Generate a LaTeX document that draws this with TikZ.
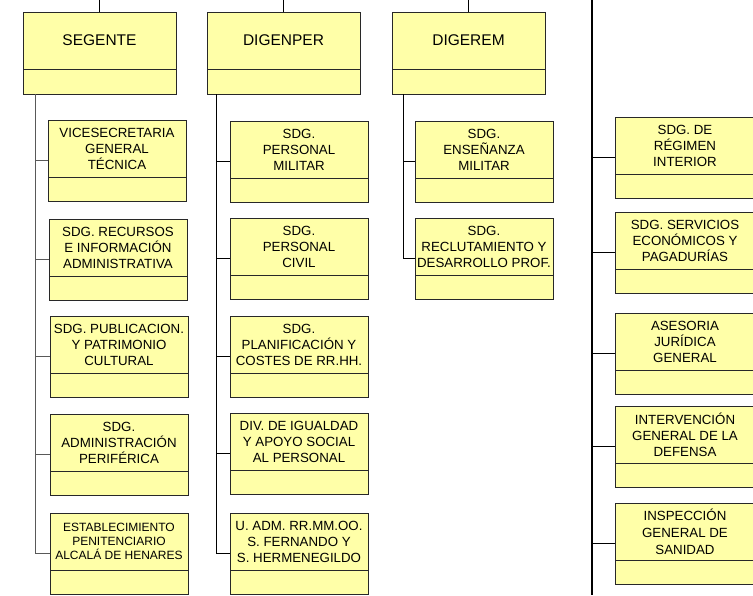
\documentclass[tikz,border=0pt]{standalone}
\usepackage{fontspec}
\setmainfont{Liberation Sans}
\usetikzlibrary{positioning}
\definecolor{jaune}{RGB}{255,255,168}
\definecolor{bord}{RGB}{40,40,40}

\begin{document}
\begin{tikzpicture}[x=1pt, y=-1pt,
        boite/.style={draw=bord, fill=jaune, line width=0.8pt, outer sep=0pt, inner sep=0pt, align=center},
        direction/.style={boite, anchor=north west, minimum width=153pt, minimum height=57pt, font=\fontsize{15.5}{18}\selectfont},
        unite/.style={boite, anchor=north west, minimum width=138pt, minimum height=57pt, font=\fontsize{13.3}{16}\selectfont},
        pied/.style={boite, minimum width=138pt, minimum height=24pt},
        lien/.style={line width=0.9pt},
        lienfort/.style={line width=1.6pt}]
    \clip (0,0) rectangle (753,595);
    \coordinate (haut) at (0,0);

    % Directions generales
    \node[direction] (segente) at (23,12) {SEGENTE};
    \node[pied, minimum width=153pt, minimum height=25pt, below=0pt of segente] (segenteB) {};
    \node[direction] (digenper) at (207,12) {DIGENPER};
    \node[pied, minimum width=153pt, minimum height=25pt, below=0pt of digenper] (digenperB) {};
    \node[direction] (digerem) at (392,12) {DIGEREM};
    \node[pied, minimum width=153pt, minimum height=25pt, below=0pt of digerem] (digeremB) {};

    \draw[lienfort] (segente.north) -- (segente.north |- haut);
    \draw[lienfort] (digenper.north) -- (digenper.north |- haut);
    \draw[lienfort] (digerem.north) -- (digerem.north |- haut);

    % Sous-directions de SEGENTE
    \node[unite] (vicesec) at (48,120) {VICESECRETARIA\\GENERAL\\TÉCNICA};
    \node[pied, below=0pt of vicesec] (vicesecB) {};
    \node[unite] (recursos) at (49,219) {SDG. RECURSOS\\E INFORMACIÓN\\ADMINISTRATIVA};
    \node[pied, below=0pt of recursos] (recursosB) {};
    \node[unite] (publicacion) at (50,316) {SDG. PUBLICACION.\\Y PATRIMONIO\\CULTURAL};
    \node[pied, below=0pt of publicacion] (publicacionB) {};
    \node[unite] (periferica) at (50,414) {SDG.\\ADMINISTRACIÓN\\PERIFÉRICA};
    \node[pied, below=0pt of periferica] (perifericaB) {};
    \node[unite, font=\fontsize{12}{14}\selectfont] (penitenciario) at (50,513) {ESTABLECIMIENTO\\PENITENCIARIO\\ALCALÁ DE HENARES};
    \node[pied, below=0pt of penitenciario] (penitenciarioB) {};

    \coordinate (troncSeg) at ([xshift=12pt]segenteB.south west);
    \draw[lien, draw=gray!70!black] (troncSeg) |- ([yshift=-12pt]vicesec.west);
    \draw[lien, draw=gray!70!black] (troncSeg) |- ([yshift=-12pt]recursos.west);
    \draw[lien, draw=gray!70!black] (troncSeg) |- ([yshift=-12pt]publicacion.west);
    \draw[lien, draw=gray!70!black] (troncSeg) |- ([yshift=-12pt]periferica.west);
    \draw[lien, draw=gray!70!black] (troncSeg) |- ([yshift=-12pt]penitenciario.west);

    % Sous-directions de DIGENPER
    \node[unite] (pmilitar) at (230,121) {SDG.\\PERSONAL\\MILITAR};
    \node[pied, below=0pt of pmilitar] (pmilitarB) {};
    \node[unite] (pcivil) at (230,218) {SDG.\\PERSONAL\\CIVIL};
    \node[pied, below=0pt of pcivil] (pcivilB) {};
    \node[unite] (planif) at (230,316) {SDG.\\PLANIFICACIÓN Y\\COSTES DE RR.HH.};
    \node[pied, below=0pt of planif] (planifB) {};
    \node[unite] (igualdad) at (230,413) {DIV. DE IGUALDAD\\Y APOYO SOCIAL\\AL PERSONAL};
    \node[pied, below=0pt of igualdad] (igualdadB) {};
    \node[unite] (uadm) at (230,513) {U. ADM. RR.MM.OO.\\S. FERNANDO Y\\S. HERMENEGILDO};
    \node[pied, below=0pt of uadm] (uadmB) {};

    \coordinate (troncPer) at ([xshift=9pt]digenperB.south west);
    \draw[lien] (troncPer) |- ([yshift=-12pt]pmilitar.west);
    \draw[lien] (troncPer) |- ([yshift=-12pt]pcivil.west);
    \draw[lien] (troncPer) |- ([yshift=-12pt]planif.west);
    \draw[lien] (troncPer) |- ([yshift=-12pt]igualdad.west);
    \draw[lien] (troncPer) |- ([yshift=-12pt]uadm.west);

    % Sous-directions de DIGEREM
    \node[unite] (ensenanza) at (415,121) {SDG.\\ENSEÑANZA\\MILITAR};
    \node[pied, below=0pt of ensenanza] (ensenanzaB) {};
    \node[unite] (reclut) at (415,218) {SDG.\\RECLUTAMIENTO Y\\DESARROLLO PROF.};
    \node[pied, below=0pt of reclut] (reclutB) {};

    \coordinate (troncRem) at ([xshift=11pt]digeremB.south west);
    \draw[lien] (troncRem) |- ([yshift=-12pt]ensenanza.west);
    \draw[lien] (troncRem) |- ([yshift=-12pt]reclut.west);

    % Colonne de droite
    \node[unite, minimum width=140pt] (regimen) at (615,117) {SDG. DE\\RÉGIMEN\\INTERIOR};
    \node[pied, minimum width=140pt, below=0pt of regimen] (regimenB) {};
    \node[unite, minimum width=140pt] (servicios) at (615,212) {SDG. SERVICIOS\\ECONÓMICOS Y\\PAGADURÍAS};
    \node[pied, minimum width=140pt, below=0pt of servicios] (serviciosB) {};
    \node[unite, minimum width=140pt] (asesoria) at (615,313) {ASESORIA\\JURÍDICA\\GENERAL};
    \node[pied, minimum width=140pt, below=0pt of asesoria] (asesoriaB) {};
    \node[unite, minimum width=140pt] (intervencion) at (615,406) {INTERVENCIÓN\\GENERAL DE LA\\DEFENSA};
    \node[pied, minimum width=140pt, below=0pt of intervencion] (intervencionB) {};
    \node[unite, minimum width=140pt, font=\fontsize{13.3}{17}\selectfont] (inspeccion) at (615,503) {INSPECCIÓN\\GENERAL DE\\SANIDAD};
    \node[pied, minimum width=140pt, below=0pt of inspeccion] (inspeccionB) {};

    \coordinate (colHaut) at (592,0);
    \coordinate (colBas) at (592,595);
    \draw[lienfort] (colHaut) -- (colBas);
    \draw[lienfort] (colHaut) |- ([yshift=-12pt]regimen.west);
    \draw[lienfort] (colHaut) |- ([yshift=-12pt]servicios.west);
    \draw[lienfort] (colHaut) |- ([yshift=-12pt]asesoria.west);
    \draw[lienfort] (colHaut) |- ([yshift=-12pt]intervencion.west);
    \draw[lienfort] (colHaut) |- ([yshift=-12pt]inspeccion.west);
\end{tikzpicture}
\end{document}
